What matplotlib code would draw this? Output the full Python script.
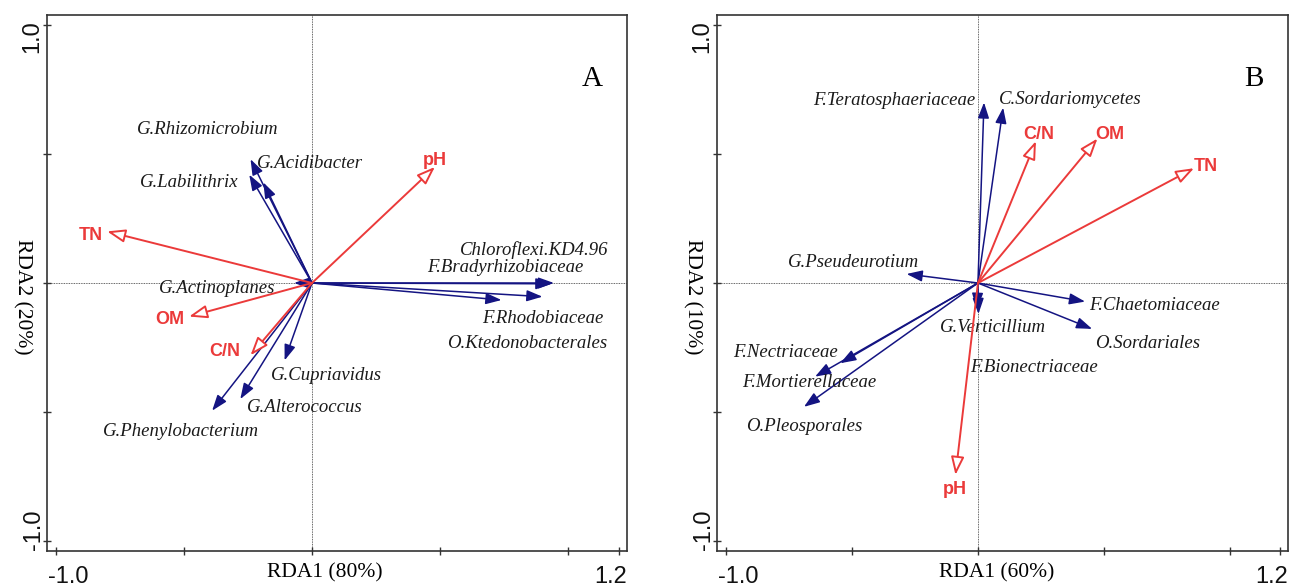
import matplotlib
matplotlib.use("Agg")
import matplotlib.pyplot as plt

# ── data: panel A (bacteria) ─────────────────────────────────────────────────
a_species = ["G.Rhizomicrobium", "G.Acidibacter", "G.Labilithrix", "Chloroflexi.KD4.96",
             "F.Bradyrhizobiaceae", "G.Actinoplanes", "F.Rhodobiaceae", "O.Ktedonobacterales",
             "G.Cupriavidus", "G.Alterococcus", "G.Phenylobacterium"]
a_sp_x = [-0.24, -0.19, -0.245, 0.945, 0.935, -0.07, 0.74, 0.90, -0.107, -0.28, -0.39]
a_sp_y = [0.48, 0.39, 0.42, 0.0, -0.003, 0.0, -0.066, -0.053, -0.30, -0.45, -0.495]
a_sp_lab_x = [-0.684, -0.215, -0.672, 0.578, 0.449, -0.598, 0.664, 0.527, -0.160, -0.254, -0.816]
a_sp_lab_y = [0.597, 0.465, 0.391, 0.128, 0.062, -0.023, -0.136, -0.233, -0.360, -0.484, -0.574]

a_env = ["TN", "pH", "OM", "C/N"]
a_env_x = [-0.80, 0.48, -0.48, -0.24]
a_env_y = [0.20, 0.45, -0.13, -0.28]
a_env_lab_x = [-0.863, 0.48, -0.555, -0.34]
a_env_lab_y = [0.186, 0.473, -0.143, -0.264]

# ── data: panel B (fungi) ────────────────────────────────────────────────────
b_species = ["F.Teratosphaeriaceae", "C.Sordariomycetes", "G.Pseudeurotium", "F.Chaetomiaceae",
             "G.Verticillium", "O.Sordariales", "F.Nectriaceae", "F.Bionectriaceae",
             "F.Mortierellaceae", "O.Pleosporales"]
b_sp_x = [0.024, 0.10, -0.283, 0.425, 0.002, 0.453, -0.546, -0.004, -0.646, -0.69]
b_sp_y = [0.70, 0.68, 0.035, -0.072, -0.12, -0.178, -0.311, -0.10, -0.363, -0.48]
b_sp_lab_x = [-0.652, 0.085, -0.754, 0.439, -0.152, 0.463, -0.970, -0.033, -0.935, -0.919]
b_sp_lab_y = [0.709, 0.713, 0.081, -0.089, -0.174, -0.233, -0.271, -0.326, -0.384, -0.558]

b_env = ["C/N", "OM", "TN", "pH"]
b_env_x = [0.23, 0.474, 0.857, -0.089]
b_env_y = [0.55, 0.56, 0.445, -0.744]
b_env_lab_x = [0.242, 0.522, 0.903, -0.093]
b_env_lab_y = [0.574, 0.574, 0.453, -0.802]

RED = "#eb3a3a"
NAVY = "#141482"
PX = 0.72  # points per pixel at dpi 100


def draw_panel(ax, sp, sx, sy, slx, sly, env, ex, ey, elx, ely, xlab, ylab, tag, xlab_pos):
    ax.set_xlim(-1.035, 1.23)
    ax.set_ylim(-1.039, 1.039)
    ax.axhline(0, color="#333333", lw=0.6, ls=(0, (1, 1)), zorder=0)
    ax.axvline(0, color="#333333", lw=0.6, ls=(0, (1, 1)), zorder=0)

    for x, y in zip(sx, sy):
        ax.annotate("", xy=(x, y), xytext=(0, 0),
                    arrowprops=dict(arrowstyle="-|>,head_length=0.95,head_width=0.34",
                                    mutation_scale=10, color=NAVY, lw=1.1,
                                    shrinkA=0, shrinkB=0))
    for name, x, y in zip(sp, slx, sly):
        ax.text(x, y, name, ha="left", va="center", fontsize=13.5,
                family="Liberation Serif", style="italic", color="#1a1a1a")

    for x, y in zip(ex, ey):
        ax.annotate("", xy=(x, y), xytext=(0, 0),
                    arrowprops=dict(arrowstyle="-|>,head_length=1.1,head_width=0.4",
                                    mutation_scale=10, ec=RED, fc="white", lw=1.4,
                                    shrinkA=0, shrinkB=0))
    for name, x, y in zip(env, elx, ely):
        ax.text(x, y, name, ha="center", va="center", fontsize=13,
                family="Liberation Sans", weight="bold", color=RED)

    ax.text(0.94, 0.88, tag, transform=ax.transAxes, ha="center", va="center",
            fontsize=21, family="Liberation Serif")

    # ticks: short, crossing the frame; labels only at the ends, pinned to frame corners
    ax.set_xticks([-1.0, -0.5, 0, 0.5, 1.0, 1.2])
    ax.set_yticks([-1.0, -0.5, 0, 0.5, 1.0])
    ax.set_xticklabels([])
    ax.set_yticklabels([])
    ax.tick_params(direction="inout", length=6, width=1, color="#333333")
    for s in ax.spines.values():
        s.set_linewidth(1.2)
        s.set_color("#333333")

    tk = dict(xycoords="axes fraction", textcoords="offset points",
              fontsize=17, family="Liberation Sans", color="#111111")
    ax.annotate("-1.0", xy=(0, 0), xytext=(1 * PX, -15 * PX), ha="left", va="top", **tk)
    ax.annotate("1.2", xy=(1, 0), xytext=(0, -15 * PX), ha="right", va="top", **tk)
    ax.annotate("1.0", xy=(0, 1), xytext=(-15 * PX, -5 * PX), ha="center", va="top",
                rotation=90, **tk)
    ax.annotate("-1.0", xy=(0, 0), xytext=(-13 * PX, 1 * PX), ha="center", va="bottom",
                rotation=90, **tk)

    ax.annotate(xlab, xy=(xlab_pos, 0), xycoords="axes fraction",
                xytext=(0, -22 * PX), textcoords="offset points",
                ha="center", va="center", fontsize=15.5, family="Liberation Serif")
    ax.annotate(ylab, xy=(0, 0.474), xycoords="axes fraction",
                xytext=(-25 * PX, 0), textcoords="offset points", rotation=-90,
                ha="center", va="center", fontsize=15.5, family="Liberation Serif")


fig = plt.figure(figsize=(12.94, 5.86), dpi=100)
ax1 = fig.add_axes([0.0363, 0.0597, 0.4482, 0.9147])
ax2 = fig.add_axes([0.5541, 0.0597, 0.4413, 0.9147])

draw_panel(ax1, a_species, a_sp_x, a_sp_y, a_sp_lab_x, a_sp_lab_y,
           a_env, a_env_x, a_env_y, a_env_lab_x, a_env_lab_y,
           "RDA1 (80%)", "RDA2 (20%)", "A", 0.479)
draw_panel(ax2, b_species, b_sp_x, b_sp_y, b_sp_lab_x, b_sp_lab_y,
           b_env, b_env_x, b_env_y, b_env_lab_x, b_env_lab_y,
           "RDA1 (60%)", "RDA2 (10%)", "B", 0.490)

plt.savefig("out.png", dpi=100)
